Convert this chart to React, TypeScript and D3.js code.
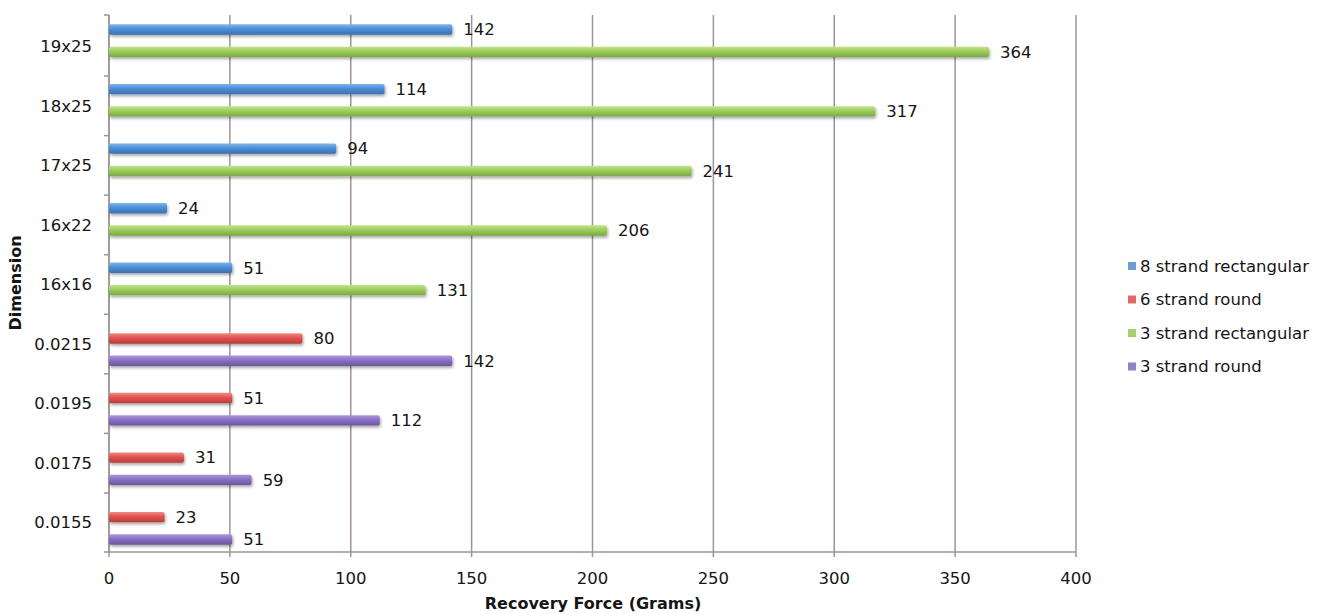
import React from "react";
import * as d3 from "d3";

const categories = ["19x25", "18x25", "17x25", "16x22", "16x16", "0.0215", "0.0195", "0.0175", "0.0155"];
const seriesNames = ["8 strand rectangular", "6 strand round", "3 strand rectangular", "3 strand round"];
const eightStrandRect = [142, 114, 94, 24, 51, null, null, null, null];
const sixStrandRound = [null, null, null, null, null, 80, 51, 31, 23];
const threeStrandRect = [364, 317, 241, 206, 131, null, null, null, null];
const threeStrandRound = [null, null, null, null, null, 142, 112, 59, 51];
const xTicks = [0, 50, 100, 150, 200, 250, 300, 350, 400];

const seriesValues = [eightStrandRect, sixStrandRound, threeStrandRect, threeStrandRound];
const colors = [
  { top: "#7fb5ec", mid: "#4d8ed6", bot: "#3a70b3" },
  { top: "#f08a86", mid: "#e0524f", bot: "#b93d3b" },
  { top: "#c2e58e", mid: "#9dcd5b", bot: "#7aa843" },
  { top: "#ad97dc", mid: "#8a6fc2", bot: "#6b55a0" },
];
const swatch = ["#6f9fd0", "#e06a68", "#a8d070", "#9480c8"];

const FONT = "'DejaVu Sans', 'Open Sans', sans-serif";
const GRID = "#9e9494";
const TXT = "#151515";

export default function App() {
  const left = 109, right = 1076, top = 15, bottom = 552;
  const x = d3.scaleLinear().domain([0, 400]).range([left, right]);
  const y = d3.scaleBand<string>().domain(categories).range([16.5, 552.5]).paddingInner(0).paddingOuter(0);
  const inner = d3.scaleBand<string>().domain(seriesNames).range([0, y.bandwidth()]).paddingInner(0.07).paddingOuter(0.7);
  const bandEdges = categories.map((c) => y(c)!).concat([552]);

  return (
    <svg width={1333} height={614} style={{ position: "absolute", left: 0, top: 0, background: "#fff" }} fontFamily={FONT}>
      <defs>
        {colors.map((c, i) => (
          <linearGradient key={i} id={`g${i}`} x1="0" y1="0" x2="0" y2="1">
            <stop offset="0" stopColor={c.top} />
            <stop offset="0.45" stopColor={c.mid} />
            <stop offset="1" stopColor={c.bot} />
          </linearGradient>
        ))}
        <filter id="sh" x="-5%" y="-50%" width="110%" height="220%">
          <feGaussianBlur in="SourceAlpha" stdDeviation="1.5" />
          <feOffset dx="1" dy="2" result="b" />
          <feComponentTransfer><feFuncA type="linear" slope="0.35" /></feComponentTransfer>
          <feMerge><feMergeNode /><feMergeNode in="SourceGraphic" /></feMerge>
        </filter>
      </defs>

      {/* gridlines */}
      {xTicks.map((t) => (
        <g key={t}>
          <line x1={x(t)} x2={x(t)} y1={top} y2={bottom + 5} stroke={GRID} strokeWidth={1.5} />
          <text x={x(t)} y={584} textAnchor="middle" fontSize={16.5} fill={TXT}>{t}</text>
        </g>
      ))}
      {/* axes */}
      <line x1={left} x2={right} y1={bottom} y2={bottom} stroke={GRID} strokeWidth={1.5} />
      <line x1={left} x2={left} y1={top} y2={bottom} stroke={GRID} strokeWidth={1.5} />
      {bandEdges.map((e, i) => (
        <line key={i} x1={left - 5} x2={left} y1={i === 0 ? top : e} y2={i === 0 ? top : e} stroke={GRID} strokeWidth={1.5} />
      ))}

      {/* category labels */}
      {categories.map((c) => (
        <text key={c} x={92} y={y(c)! + y.bandwidth() / 2} dy="0.35em" textAnchor="end" fontSize={16.5} fill={TXT}>{c}</text>
      ))}

      {/* bars */}
      {seriesValues.map((vals, si) =>
        vals.map((v, ci) => {
          if (v == null) return null;
          const cy = y(categories[ci])! + inner(seriesNames[si])!;
          const h = inner.bandwidth();
          return (
            <g key={`${si}-${ci}`}>
              <rect x={x(0)} y={cy} width={x(v) - x(0)} height={h} rx={2} fill={`url(#g${si})`} filter="url(#sh)" />
              <text x={x(v) + 11} y={cy + h / 2} dy="0.35em" fontSize={16.5} fill={TXT}>{v}</text>
            </g>
          );
        })
      )}

      {/* axis titles */}
      <text x={593} y={609} textAnchor="middle" fontSize={16} fontWeight="bold" fill={TXT}>Recovery Force (Grams)</text>
      <text transform="translate(21,283) rotate(-90)" textAnchor="middle" fontSize={16} fontWeight="bold" fill={TXT}>Dimension</text>

      {/* legend */}
      {seriesNames.map((s, i) => {
        const ly = 266 + i * 33.5;
        return (
          <g key={s}>
            <rect x={1128} y={ly - 4} width={8} height={8} fill={swatch[i]} />
            <text x={1140} y={ly} dy="0.35em" fontSize={16.5} fill={TXT}>{s}</text>
          </g>
        );
      })}
    </svg>
  );
}
